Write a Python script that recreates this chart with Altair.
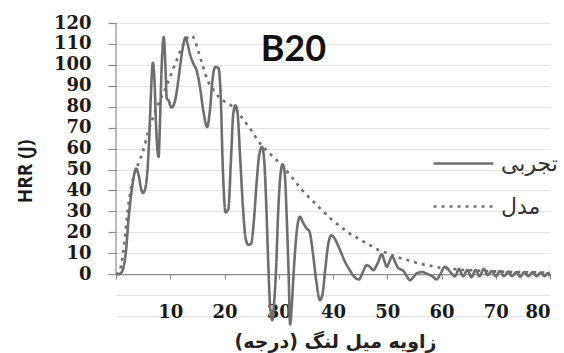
import altair as alt
import pandas as pd

# ---------------- data ----------------
series_names = ["تجربی", "مدل"]

exp_x = [0, 0.5, 1.0, 1.4, 1.8, 2.3, 2.8, 3.3, 3.7, 4.2, 4.6, 5.0, 5.4, 5.8, 6.2, 6.5, 6.8, 7.1, 7.4, 7.85,
         8.1, 8.4, 8.8, 9.1, 9.35, 9.7, 10.2, 10.8, 11.3, 11.8, 12.3, 12.8, 13.2, 13.6, 14.2, 14.9, 15.5, 16.1,
         16.8, 17.3, 17.8, 18.3, 18.9, 19.3, 19.7, 20.2, 20.7, 21.2, 21.6, 22.0, 22.4, 22.9, 23.4, 23.9, 24.4,
         24.9, 25.4, 25.9, 26.4, 26.9, 27.3, 27.7, 28.0, 28.4, 28.8, 29.1, 29.5, 29.9, 30.3, 30.7, 31.1, 31.5,
         31.8, 32.1, 32.4, 32.8, 33.3, 33.9, 34.5, 35.1, 35.7, 36.3, 36.9, 37.6, 38.1, 38.6, 39.1, 39.7, 40.3,
         41.3, 42.2, 43.1, 44.0, 44.8, 45.5, 46.2, 46.8, 47.4, 48.2, 49.0, 49.5, 49.9, 50.4, 50.9, 51.5, 52.0,
         53.0, 53.6, 54.2, 54.8, 55.5, 56.5, 57.3, 58.3, 59.1, 59.8, 60.6, 61.0, 61.8, 62.5, 63.2, 64.0, 64.8,
         65.5, 66.3, 67.0, 67.8, 68.5, 69.3, 70.0, 70.8, 71.5, 72.3, 73.0, 73.8, 74.5, 75.3, 76.0, 76.8, 77.5,
         78.3, 79.0, 79.6, 80.0]
exp_y = [0, 0, 0.8, 3.5, 10, 26, 38, 47, 50.5, 47, 41, 38.8, 41, 49.7, 70, 90, 101, 92, 70, 56,
         72, 98, 113.3, 100, 84, 83, 79.6, 82, 89, 99, 108, 113, 110, 105.5, 101, 97, 89, 78,
         70.3, 78, 93, 99, 98.5, 85, 50, 29.5, 31, 55, 76, 80.7, 77, 55, 32, 17, 14,
         14.5, 25, 43, 57, 60.8, 55, 33, 10, -15, -22, -15, 2, 30, 47, 52.5, 48, 25,
         2, -24, -15, 3, 20, 27.4, 24.5, 22, 20, 10, -3, -12.4, -9, 3, 14, 18.6, 17,
         11.5, 6, 1.9, -1.5, -2.5, 1, 4.3, 3.5, 1.9, 5, 9.5, 6, 3.5, 6, 8.5, 5.5, 3,
         1.5, -1, -2.9, -1.5, 0.5, 1, 0.2, -1, -2.5, 0, 3.5, 3, 0.5, -1, 2.5, -1, 2,
         -1.5, 2, -1, 2.5, -0.5, 1.5, -1, 1.5, -1, 1.2, -1, 1, -1.2, 1, -1, 1, -1,
         0.8, -1, 0.5, -1]

mod_x = [0, 0.5, 1.0, 1.5, 2.0, 2.5, 3.0, 3.5, 4.0, 5.0, 6.0, 7.0, 8.0, 9.0, 10.0, 11.0, 12.0, 13.0, 13.8,
         14.5, 15.0, 16.0, 17.0, 18.0, 19.0, 20.0, 21.0, 22.0, 23.0, 24.0, 25.0, 26.0, 27.0, 28.0, 29.0,
         30.0, 31.0, 32.0, 33.0, 34.0, 35.0, 36.0, 37.0, 38.0, 39.0, 40.0, 41.0, 42.0, 43.0, 44.0, 45.0,
         46.0, 47.0, 48.0, 49.0, 50.0, 52.0, 54.0, 56.0, 58.0, 60.0, 62.0, 64.0, 66.0, 68.0, 70.0, 72.0,
         74.0, 76.0, 78.0, 80.0]
mod_y = [0, 0.5, 5, 14, 27, 37, 44, 48.5, 52, 59, 68.5, 76, 82.5, 88, 94.5, 101, 107.5, 112.5, 114,
         112, 108, 99.5, 92, 88, 84.5, 82.5, 81, 79, 75.5, 72, 68.5, 64.5, 61, 58.5, 56,
         53.5, 51, 47.5, 44.5, 41, 38.2, 35.7, 33, 30.5, 28, 25.5, 23.5, 21.5, 19.5, 18, 16.5,
         15, 13.5, 12, 11, 10, 8, 6.5, 5, 4, 3, 2.5, 2, 1.8, 1.5, 1.3, 1.1,
         1.0, 0.9, 0.8, 0.7]

y_ticks = list(range(-20, 121, 10))
x_ticks = list(range(0, 81, 10))
y_axis_span = [0, 120]
label_pos = {"x": 32.7, "y": 107, "text": "B20"}

df = pd.concat([
    pd.DataFrame({"x": exp_x, "y": exp_y, "series": series_names[0], "order": range(len(exp_x))}),
    pd.DataFrame({"x": mod_x, "y": mod_y, "series": series_names[1], "order": range(len(mod_x))}),
])

GRAY = "#6e6e6e"
AXIS_GRAY = "#8c8c8c"
W, H = 434, 293
xscale = alt.Scale(domain=[0, 80], nice=False, zero=False)
yscale = alt.Scale(domain=[-20, 120], nice=False, zero=False)

xaxis = alt.Axis(
    values=x_ticks, labelExpr="datum.value == 0 ? '' : datum.label", grid=False, labelOverlap=False,
    offset=-41.9, domainColor=AXIS_GRAY, domainWidth=1.2, ticks=True, tickColor=AXIS_GRAY, tickSize=5,
    labelPadding=24, labelFont="DejaVu Serif", labelFontSize=18, labelFontWeight="bold",
    labelColor="#1a1a1a", title="زاویه میل لنگ (درجه)", titleFont="DejaVu Sans",
    titleFontSize=19, titleFontWeight="bold", titleColor="#222222",
    titleX=219, titleY=67, titleBaseline="middle")
yaxis = alt.Axis(
    values=y_ticks, labelExpr="datum.value < 0 ? '' : datum.label", grid=True, labelOverlap=False,
    gridColor="#e4e4e4", gridWidth=1, domain=False, ticks=True,
    tickOpacity=alt.condition("datum.value < 0", alt.value(0), alt.value(1)),
    tickColor=AXIS_GRAY, tickWidth=1.2,
    tickSize=8, labelPadding=17, labelFont="DejaVu Serif", labelFontSize=18,
    labelFontWeight="bold", labelColor="#1a1a1a", title="HRR (J)", titleFont="Open Sans",
    titleFontSize=19, titleFontWeight="bold", titleColor="#1a1a1a",
    titleX=-91, titleY=148, titleBaseline="middle")

X = alt.X("x:Q", scale=xscale, axis=xaxis)
Y = alt.Y("y:Q", scale=yscale, axis=yaxis)

lines = alt.Chart(df).mark_line(clip=False, strokeWidth=2.6, color=GRAY, interpolate="monotone").encode(
    x=X, y=Y,
    strokeDash=alt.StrokeDash("series:N", scale=alt.Scale(domain=series_names, range=[[1, 0], [3, 5]]),
                              legend=alt.Legend(
                                  title=None, orient="none", legendX=316, legendY=109,
                                  symbolType="stroke", symbolSize=3600, symbolStrokeWidth=2.6,
                                  symbolStrokeColor=GRAY, labelFont="DejaVu Sans", labelFontSize=22,
                                  labelColor="#333333", labelOffset=6, rowPadding=-15)),
    order="order:Q",
)

yaxis_line = alt.Chart(pd.DataFrame({"x": [0], "y": [y_axis_span[0]], "y2": [y_axis_span[1]]})).mark_rule(
    color=AXIS_GRAY, strokeWidth=1.2).encode(x=X, y=Y, y2="y2:Q")

title_txt = alt.Chart(pd.DataFrame([label_pos])).mark_text(
    font="Lato", fontSize=36, fontWeight="bold", color="#111111").encode(x=X, y=Y, text="text:N")

chart = alt.layer(lines, yaxis_line, title_txt).properties(
    width=W, height=H,
    padding={"left": 116, "top": 23, "right": 14, "bottom": 37},
    autosize=alt.AutoSizeParams(type="none"),
    background="white",
).configure_view(stroke=None)

chart.save("out.html", embed_options={"renderer": "svg", "actions": False})
